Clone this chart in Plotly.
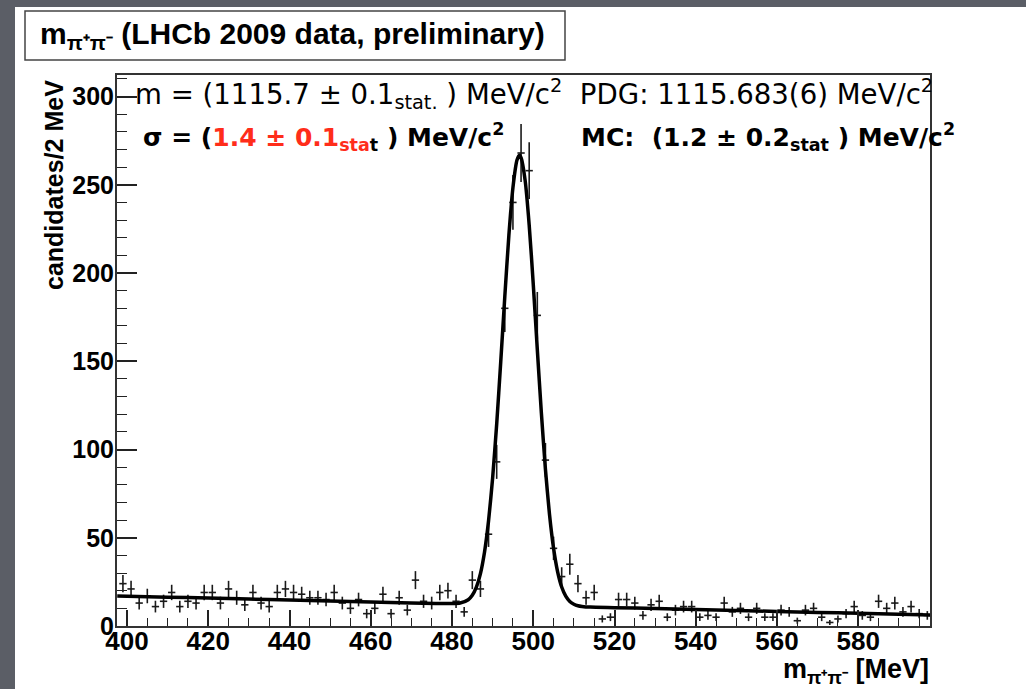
import math
import plotly.graph_objects as go

# ---------------- data ----------------
BIN_CENTERS = list(range(399, 598, 2))  # 2 MeV bins
COUNTS = [24, 21, 13, 17, 11, 14, 19, 11, 14, 13,
          19, 19, 13, 21, 16, 12, 19, 13, 11, 19,
          21, 19, 18, 16, 16, 15, 19, 13, 10, 15,
          7, 10, 18, 7, 16, 9, 26, 14, 13, 19,
          20, 14, 8, 26, 21, 52, 93, 180, 240, 268,
          258, 176, 94, 44, 28, 35, 24, 16, 19, 4,
          5, 15, 15, 13, 6, 12, 14, 5, 9, 11,
          11, 5, 6, 5, 13, 8, 10, 5, 10, 5,
          5, 9, 8, 3, 9, 10, 5, 2, 4, 7,
          11, 6, 5, 14, 10, 13, 8, 11, 7, 6]

FIT_X = [397.6, 410, 420, 430, 440, 450, 460, 470, 476, 480, 482, 484, 485, 486,
         487, 488, 489, 490, 491, 492, 493, 494, 495, 496, 496.6, 497, 498, 499,
         500, 501, 502, 503, 504, 505, 506, 507, 508, 509, 510, 511, 512, 514,
         520, 530, 540, 550, 560, 570, 580, 590, 597.7]
FIT_Y = [17.0, 16.35, 15.8, 15.3, 14.7, 14.2, 13.65, 13.1, 12.8, 12.7, 13.0, 14.9, 17.4, 22.0,
         29.7, 41.8, 59.6, 83.8, 114.4, 149.8, 186.7, 221.3, 248.4, 264.0, 266.7, 265.4, 252.5, 227.2,
         193.7, 156.6, 120.6, 88.8, 63.2, 44.0, 30.7, 22.1, 16.9, 13.9, 12.35, 11.5, 11.1, 10.7,
         10.4, 9.9, 9.3, 8.8, 8.25, 7.7, 7.2, 6.6, 6.2]

X_TICKS = [400, 420, 440, 460, 480, 500, 520, 540, 560, 580]
Y_TICKS = [0, 50, 100, 150, 200, 250, 300]

X_RANGE = [397.54, 597.66]
Y_RANGE = [0, 312.2]

# ---------------- layout geometry ----------------
W, H = 1026, 689
L, R, T, B = 117, 96, 75, 63
PW, PH = W - L - R, H - T - B


def fx(px):
    return (px - L) / PW


def fy(py):
    return 1 - (py - T) / PH


errors = [math.sqrt(c) for c in COUNTS]
ERR_COL = "#1a1a1a"

fig = go.Figure()
fig.add_trace(go.Scatter(
    x=BIN_CENTERS, y=COUNTS, mode="markers",
    marker=dict(size=1.5, color=ERR_COL),
    error_y=dict(type="data", array=errors, visible=True, color=ERR_COL, thickness=1.6, width=0),
    error_x=dict(type="constant", value=0.9, visible=True, color=ERR_COL, thickness=1.6, width=0),
    hoverinfo="skip",
))
fig.add_trace(go.Scatter(
    x=FIT_X, y=FIT_Y, mode="lines",
    line=dict(color="black", width=3.5, shape="spline", smoothing=0.6),
    hoverinfo="skip",
))

BOLD = dict(family="Liberation Sans, Arial, sans-serif", color="black", weight="bold")

fig.update_layout(
    width=W, height=H,
    margin=dict(l=L, r=R, t=T, b=B, pad=0),
    paper_bgcolor="#5b5e66",
    plot_bgcolor="white",
    showlegend=False,
    font=dict(family="Liberation Sans, Arial, sans-serif", color="black"),
    xaxis=dict(
        range=X_RANGE, tickmode="array", tickvals=X_TICKS,
        ticks="inside", ticklen=16, tickwidth=1.5, tickcolor="#222",
        showline=True, linecolor="#333", linewidth=2, mirror=True,
        showgrid=False, zeroline=False,
        tickfont=dict(size=26, **BOLD), ticklabelstandoff=-9,
        minor=dict(tickmode="linear", tick0=0, dtick=5, ticks="inside", ticklen=8,
                   tickwidth=1.2, tickcolor="#222", showgrid=False),
    ),
    yaxis=dict(
        range=Y_RANGE, tickmode="array", tickvals=Y_TICKS,
        ticks="inside", ticklen=20, tickwidth=1.5, tickcolor="#222",
        showline=True, linecolor="#333", linewidth=2, mirror=True,
        showgrid=False, zeroline=False,
        tickfont=dict(size=25, **BOLD), ticklabelstandoff=-4,
        minor=dict(tickmode="linear", tick0=0, dtick=10, ticks="inside", ticklen=10,
                   tickwidth=1.2, tickcolor="#222", showgrid=False),
    ),
)

fig.add_shape(type="rect", xref="paper", yref="paper",
              x0=fx(15), x1=fx(1040), y0=fy(700), y1=fy(7),
              fillcolor="white", line=dict(width=0), layer="below")
fig.add_shape(type="rect", xref="paper", yref="paper",
              x0=fx(25), x1=fx(565), y0=fy(60), y1=fy(11),
              fillcolor="white", line=dict(color="#444", width=1.5), layer="below")

RED = "#ff2d1a"
ann = [
    dict(text="<b>m<sub>π⁺π⁻</sub> (LHCb 2009 data, preliminary)</b>",
         x=fx(292), y=fy(36), xanchor="center", yanchor="middle",
         font=dict(family="Liberation Sans, Arial, sans-serif", size=30, color="black")),
    dict(text="m = (1115.7 ± 0.1<sub>stat.</sub> ) MeV/c<sup>2</sup>  PDG: 1115.683(6) MeV/c<sup>2</sup>",
         x=fx(133), y=fy(94), xanchor="left", yanchor="middle",
         font=dict(family="DejaVu Sans", size=27.6, color="black")),
    dict(text=("<b>σ = (<span style='color:%s'>1.4 ± 0.1</span><sub><span style='color:%s'>sta</span>t</sub> ) MeV/c<sup>2</sup></b>"
               % (RED, RED)),
         x=fx(141), y=fy(137), xanchor="left", yanchor="middle",
         font=dict(family="DejaVu Sans", size=25, color="black")),
    dict(text="<b>MC:  (1.2 ± 0.2<sub>stat</sub> ) MeV/c<sup>2</sup></b>",
         x=fx(579), y=fy(137), xanchor="left", yanchor="middle",
         font=dict(family="DejaVu Sans", size=25, color="black")),
    dict(text="<b>candidates/2 MeV</b>", textangle=-90,
         x=fx(54), y=fy(185), xanchor="center", yanchor="middle",
         font=dict(family="Liberation Sans, Arial, sans-serif", size=25, color="black")),
    dict(text="<b>m<sub>π⁺π⁻</sub> [MeV]</b>",
         x=fx(931), y=fy(671), xanchor="right", yanchor="middle",
         font=dict(family="Liberation Sans, Arial, sans-serif", size=27, color="black")),
]
for a in ann:
    fig.add_annotation(xref="paper", yref="paper", showarrow=False, **a)

fig.write_html("out.html")
